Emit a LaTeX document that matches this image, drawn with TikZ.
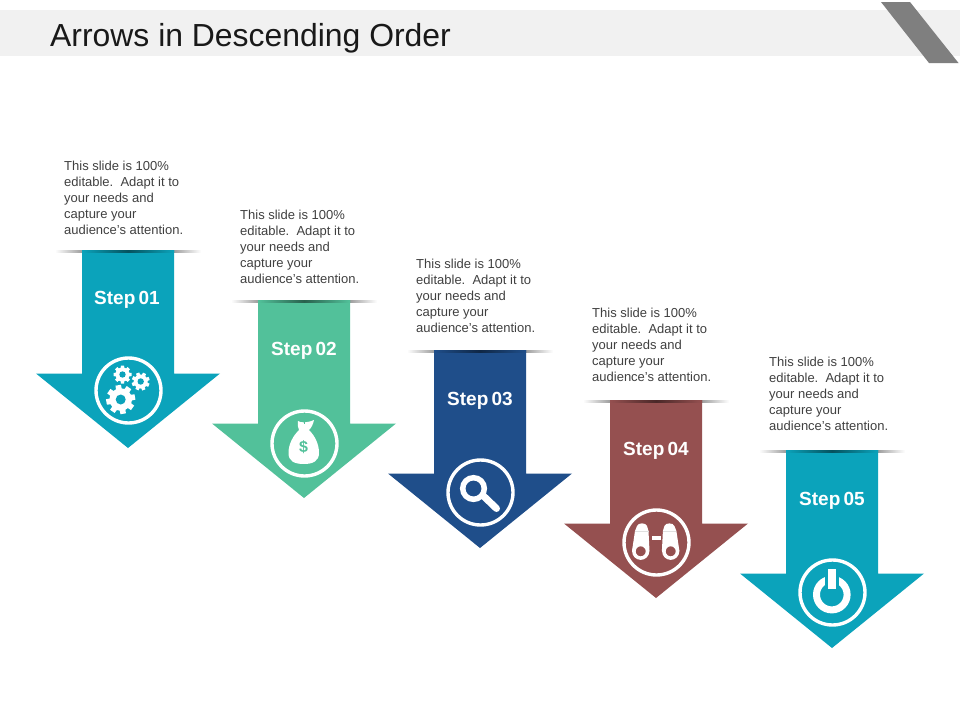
\documentclass[tikz,border=0pt]{standalone}
\usepackage{fontspec}
\setmainfont{Liberation Sans}
\definecolor{cteal}{HTML}{0BA3BB}
\definecolor{cgreen}{HTML}{52C19A}
\definecolor{cnavy}{HTML}{1F4E8A}
\definecolor{cbrown}{HTML}{955050}
\definecolor{cband}{HTML}{F1F1F1}
\definecolor{cslash}{HTML}{7F7F7F}
\tikzset{
  bodytext/.style={anchor=north west,inner sep=0pt,align=left,font=\fontsize{13}{16}\selectfont,text=black!75},
  steplabel/.style={inner sep=0pt,text=white,font=\fontsize{19}{20}\selectfont\bfseries},
  iconring/.style={draw=white,line width=3.4pt,fill=none}
}
\newcommand{\arrowshape}[3]{%
  \shade[left color=white,right color=black!38,draw=none]
    (#1-27,#2) rectangle (#1,#2+2);
  \shade[left color=black!38,right color=white,draw=none]
    (#1+92,#2) rectangle (#1+119,#2+2);
  \fill[#3] (#1,#2) -- (#1+92,#2) -- (#1+92,#2+123.5) -- (#1+138,#2+123.5)
    -- (#1+46,#2+198) -- (#1-46,#2+123.5) -- (#1,#2+123.5) -- cycle;
  \shade[left color=#3,right color=#3,middle color=black!50!#3,draw=none]
    (#1,#2) rectangle (#1+92,#2+2);
}
\newcommand{\gearicon}[4]{% x y outer-radius rotation
  \foreach \a in {0,45,...,315}{
    \fill[white,rotate around={\a+#4:(#1,#2)}] (#1-0.22*#3,#2) -- (#1-0.19*#3,#2-#3) -- (#1+0.19*#3,#2-#3) -- (#1+0.22*#3,#2) -- cycle;
  }
  \fill[white] (#1,#2) circle ({0.78*#3});
}
\newcommand{\stepword}[1]{Step\hspace{-2pt} #1}
\begin{document}
\begin{tikzpicture}[x=1pt,y=-1pt]
\useasboundingbox (0,0) rectangle (960,720);
\fill[white] (0,0) rectangle (960,720);
\fill[cband] (0,10) rectangle (960,56);
\fill[cslash] (881,2) -- (910,2) -- (958.5,63) -- (929,63) -- cycle;
\node[anchor=base west,inner sep=0pt,font=\fontsize{31.9}{36}\selectfont,text=black!90] (title) at (50,46) {Arrows in Descending Order};

\arrowshape{82}{250}{cteal}
\arrowshape{258}{300}{cgreen}
\arrowshape{434}{350}{cnavy}
\arrowshape{610}{400}{cbrown}
\arrowshape{786}{450}{cteal}

\node[bodytext] (t1) at (64,161) {This slide is 100\%\\editable.\ \ Adapt it to\\your needs and\\capture your\\audience's attention.};
\node[bodytext] (t2) at (240,210) {This slide is 100\%\\editable.\ \ Adapt it to\\your needs and\\capture your\\audience's attention.};
\node[bodytext] (t3) at (416,259) {This slide is 100\%\\editable.\ \ Adapt it to\\your needs and\\capture your\\audience's attention.};
\node[bodytext] (t4) at (592,308) {This slide is 100\%\\editable.\ \ Adapt it to\\your needs and\\capture your\\audience's attention.};
\node[bodytext] (t5) at (769,357) {This slide is 100\%\\editable.\ \ Adapt it to\\your needs and\\capture your\\audience's attention.};

\node[steplabel] (s1) at (127,300) {\stepword{01}};
\node[steplabel] (s2) at (304,351) {\stepword{02}};
\node[steplabel] (s3) at (480,401) {\stepword{03}};
\node[steplabel] (s4) at (656,451) {\stepword{04}};
\node[steplabel] (s5) at (832,501) {\stepword{05}};

\draw[iconring] (128.5,390.5) circle (32.5);
\draw[iconring] (304.5,443.5) circle (32.5);
\draw[iconring] (480.5,492.5) circle (32.5);
\draw[iconring] (656.5,542.5) circle (32.5);
\draw[iconring] (832.5,592.5) circle (32.5);

% gears
\gearicon{120.7}{399.5}{14.5}{10}
\fill[cteal] (120.7,399.5) circle (5);
\gearicon{122.5}{374.5}{9}{0}
\fill[cteal] (122.5,374.5) circle (3.2);
\gearicon{140.7}{381.5}{9}{20}
\fill[cteal] (140.7,381.5) circle (3.2);

% money bag
\fill[white] (298,421) .. controls (301,423) and (307,423) .. (314,420)
  .. controls (313,425) and (311,428) .. (309,430)
  .. controls (315,436) and (319,444) .. (319,453)
  .. controls (319,461) and (313,464) .. (304,464)
  .. controls (294,464) and (288.5,461) .. (288.5,453)
  .. controls (288.5,444) and (293,436) .. (299,430)
  .. controls (298,427) and (297,424) .. (298,421) -- cycle;
\draw[cgreen,line width=0.7pt] (304,420) -- (304,424);
\node[inner sep=0pt,text=cgreen,font=\fontsize{16}{16}\selectfont\bfseries] (dollar) at (303.5,447) {\$};

% magnifier
\draw[white,line width=7pt,line cap=round] (484,496.5) -- (496.5,508.5);
\draw[white,line width=5.5pt] (473.5,488.5) circle (10.8);

% binoculars
\fill[white] (632,551) -- (635,531) -- (637,526) .. controls (638,522.5) and (646,522.5) .. (647,526) -- (648.5,531) -- (649.5,551) -- cycle;
\fill[white] (679.4,551) -- (676.4,531) -- (674.4,526) .. controls (673.4,522.5) and (665.4,522.5) .. (664.4,526) -- (662.9,531) -- (661.9,551) -- cycle;
\draw[white,fill=cbrown,line width=3.5pt] (640.7,551.3) circle (6.8);
\draw[white,fill=cbrown,line width=3.5pt] (670.7,551.3) circle (6.8);
\draw[black!12,line width=0.5pt] (635,531) -- (648.5,531) (662.9,531) -- (676.4,531);
\fill[white] (652.3,536.3) rectangle (660.7,540.3);

% power
\draw[white,line width=7pt] (831.8,594.6) circle (15.3);
\fill[cteal] (825,569) rectangle (839,590);
\fill[white] (828.3,569) rectangle (835.7,589);
\end{tikzpicture}
\end{document}
